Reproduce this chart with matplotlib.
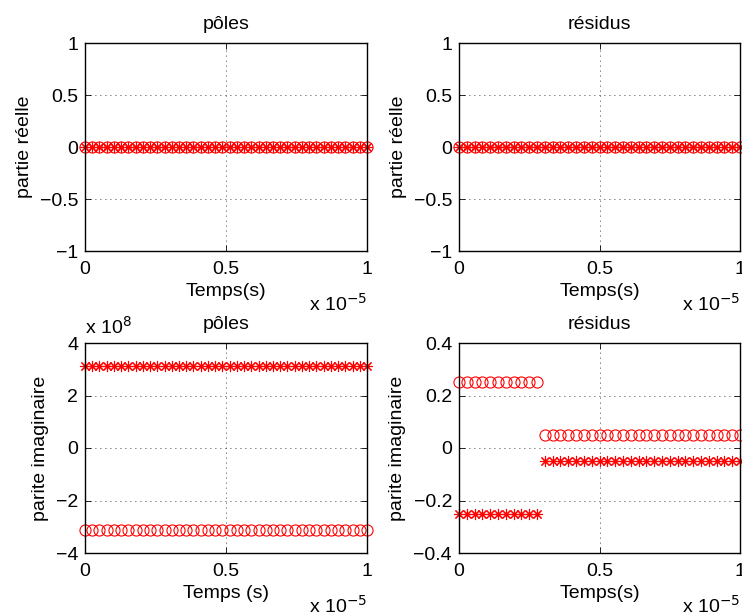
import numpy as np
import matplotlib.pyplot as plt
from matplotlib.ticker import FuncFormatter

# data
t_poles = np.linspace(0, 1e-5, 40)
t_res = np.linspace(0, 1e-5, 37)

re_poles_o = [0.0] * 40
re_poles_s = [0.0] * 40
re_res_o = [0.0] * 37
re_res_s = [0.0] * 37

im_poles_o = [-3.1416e8] * 40
im_poles_s = [3.1416e8] * 40
im_res_o = [0.25] * 11 + [0.05] * 26
im_res_s = [-0.25] * 11 + [-0.05] * 26

# plot properties
fontsize = 14
red = '#ff0000'
markersize = 8
mew = 0.8

plt.rcParams['font.family'] = ['Liberation Sans', 'DejaVu Sans']


def fmt(scale=1.0):
    return FuncFormatter(lambda v, p: ('%g' % round(v / scale, 6)).replace('-', '\u2212'))


def setup(ax, title, ylabel, xlabel, ylim, yticks, yscale=1.0):
    ax.set_xlim(0, 1e-5)
    ax.set_ylim(ylim)
    ax.set_xticks([0, 0.5e-5, 1e-5])
    ax.set_yticks(yticks)
    ax.xaxis.set_major_formatter(fmt(1e-5))
    ax.yaxis.set_major_formatter(fmt(yscale))
    ax.set_title(title, fontsize=fontsize, pad=10)
    ax.set_ylabel(ylabel, fontsize=fontsize, labelpad=5)
    ax.set_xlabel(xlabel, fontsize=fontsize, labelpad=4)
    ax.tick_params(labelsize=fontsize, direction='in', top=True, right=True,
                   length=4, width=0.6, pad=5)
    ax.tick_params(axis='x', pad=7)
    ax.grid(True, color='k', linestyle=(0, (1, 5)), linewidth=0.6)
    for s in ax.spines.values():
        s.set_linewidth(1.0)
    ax.annotate('x 10$^{-5}$', xy=(1, 0), xycoords='axes fraction',
                xytext=(0, -30), textcoords='offset points',
                ha='right', va='top', fontsize=fontsize)


def pts(ax, t, y_o, y_s):
    ax.plot(t, y_o, 'o', linestyle='none', markersize=markersize,
            markerfacecolor='none', markeredgecolor=red, markeredgewidth=mew, clip_on=False)
    ax.plot(t, y_s, marker=(8, 2, 0), linestyle='none', markersize=markersize,
            markeredgecolor=red, color=red, markeredgewidth=mew, clip_on=False)


fig = plt.figure(figsize=(7.42, 6.15), dpi=100)
ax1 = fig.add_axes([85 / 742, 1 - 251 / 615, 282 / 742, 208 / 615])
ax2 = fig.add_axes([459 / 742, 1 - 251 / 615, 281 / 742, 208 / 615])
ax3 = fig.add_axes([85 / 742, 1 - 553 / 615, 282 / 742, 210 / 615])
ax4 = fig.add_axes([459 / 742, 1 - 553 / 615, 281 / 742, 210 / 615])

pts(ax1, t_poles, re_poles_o, re_poles_s)
setup(ax1, 'pôles', 'partie réelle', 'Temps(s)', (-1, 1), [-1, -0.5, 0, 0.5, 1])

pts(ax2, t_res, re_res_o, re_res_s)
setup(ax2, 'résidus', 'partie réelle', 'Temps(s)', (-1, 1), [-1, -0.5, 0, 0.5, 1])

pts(ax3, t_poles, im_poles_o, im_poles_s)
setup(ax3, 'pôles', 'parite imaginaire', 'Temps (s)', (-4e8, 4e8),
      [-4e8, -2e8, 0, 2e8, 4e8], yscale=1e8)
ax3.annotate('x 10$^{8}$', xy=(0, 1), xycoords='axes fraction',
             xytext=(0, 4), textcoords='offset points',
             ha='left', va='bottom', fontsize=fontsize)

pts(ax4, t_res, im_res_o, im_res_s)
setup(ax4, 'résidus', 'parite imaginaire', 'Temps(s)', (-0.4, 0.4),
      [-0.4, -0.2, 0, 0.2, 0.4])

fig.savefig('out.png', dpi=100)
